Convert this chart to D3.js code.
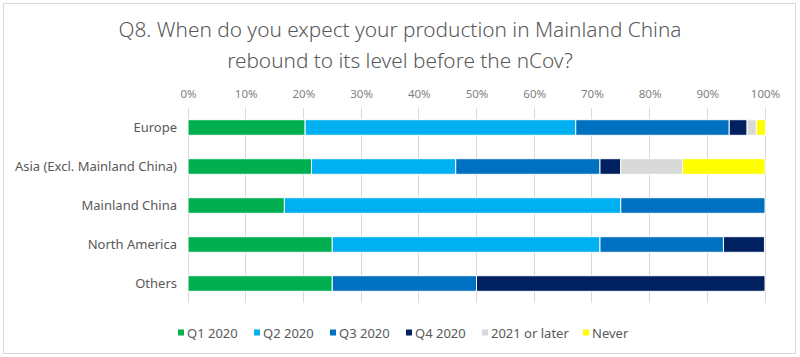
<!DOCTYPE html>
<html><head><meta charset="utf-8">
<script src="https://cdn.jsdelivr.net/npm/d3@7"></script>
<style>body{margin:0;background:#fff;} svg{display:block;font-family:"Noto Sans",sans-serif;}</style>
</head><body><svg id="c" width="800" height="357"></svg>
<script>
const categories = ["Europe","Asia (Excl. Mainland China)","Mainland China","North America","Others"];
const seriesNames = ["Q1 2020","Q2 2020","Q3 2020","Q4 2020","2021 or later","Never"];
const seriesColors = ["#00b050","#00b0f0","#0070c0","#002060","#d9d9d9","#ffff00"];
const q1 = [20.3, 21.4, 16.7, 25.0, 25.0];
const q2 = [46.9, 25.0, 58.3, 46.4, 0];
const q3 = [26.6, 25.0, 25.0, 21.4, 25.0];
const q4 = [3.1, 3.6, 0, 7.1, 50.0];
const y2021 = [1.6, 10.7, 0, 0, 0];
const never = [1.6, 14.3, 0, 0, 0];
const tickValues = [0,10,20,30,40,50,60,70,80,90,100];
const titleLines = ["Q8. When do you expect your production in Mainland China","rebound to its level before the nCov?"];

const series = [q1,q2,q3,q4,y2021,never];
const rows = categories.map((c,i)=>{const o={cat:c}; seriesNames.forEach((s,j)=>o[s]=series[j][i]); return o;});
const stacked = d3.stack().keys(seriesNames)(rows);

const svg = d3.select("#c");
svg.append("rect").attr("x",3.5).attr("y",3.5).attr("width",792).attr("height",350)
  .attr("fill","#fff").attr("stroke","#d9d9d9");

const x = d3.scaleLinear().domain([0,100]).range([188,765]);
const y = d3.scaleBand().domain(categories).range([108,303]).paddingInner(0.6).paddingOuter(0.3);

// title
svg.append("g").selectAll("text").data(titleLines).join("text")
  .attr("x",400).attr("y",(d,i)=>37+i*31).attr("text-anchor","middle")
  .attr("font-size",20.8).attr("font-weight",300).attr("fill","#595959").text(d=>d);

// gridlines
svg.append("g").selectAll("line").data(tickValues).join("line")
  .attr("x1",d=>x(d)).attr("x2",d=>x(d)).attr("y1",108).attr("y2",303)
  .attr("stroke","#d9d9d9").attr("stroke-width",1).attr("shape-rendering","crispEdges");

// top axis labels
const ax = svg.append("g").attr("transform","translate(0,98)")
  .call(d3.axisTop(x).tickValues(tickValues).tickFormat(d=>d+"%").tickSize(0).tickPadding(0));
ax.select(".domain").remove();
ax.selectAll("text").attr("font-size",11.5).attr("fill","#7f7f7f").attr("font-family","Noto Sans, sans-serif").attr("dy",0);

// category labels
svg.append("g").selectAll("text").data(categories).join("text")
  .attr("x",177).attr("y",d=>y(d)+y.bandwidth()/2).attr("dy","0.35em").attr("text-anchor","end")
  .attr("font-size",13).attr("fill","#595959").text(d=>d);

// bars
svg.append("g").selectAll("g").data(stacked).join("g")
  .attr("fill",(d,i)=>seriesColors[i])
  .selectAll("rect").data(d=>d.filter(v=>v[1]-v[0]>0)).join("rect")
  .attr("x",d=>x(d[0])).attr("width",d=>x(d[1])-x(d[0]))
  .attr("y",d=>y(d.data.cat)).attr("height",y.bandwidth())
  .attr("stroke","#fff").attr("stroke-width",1);

// legend
const legX = [178,254,330,406,482,583];
const lg = svg.append("g").selectAll("g").data(seriesNames).join("g")
  .attr("transform",(d,i)=>`translate(${legX[i]},333)`);
lg.append("rect").attr("x",0).attr("y",-3.5).attr("width",6).attr("height",6).attr("fill",(d,i)=>seriesColors[i]);
lg.append("text").attr("x",9).attr("y",0).attr("dy","0.35em").attr("font-size",13).attr("fill","#595959").text(d=>d);
</script></body></html>
